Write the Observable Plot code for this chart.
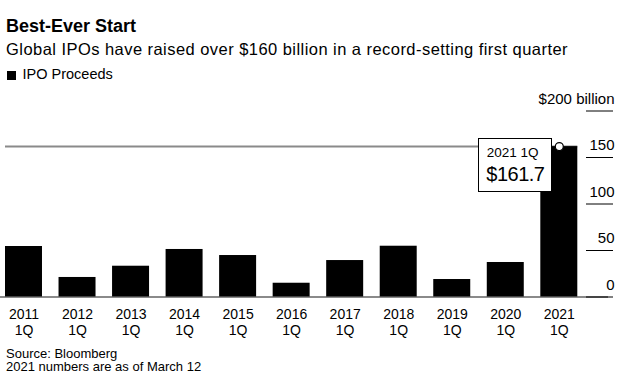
<!DOCTYPE html>
<html><head><meta charset="utf-8">
<script src="https://cdn.jsdelivr.net/npm/d3@7"></script>
<script src="https://cdn.jsdelivr.net/npm/@observablehq/plot@0.6"></script>
<style>
body{margin:0;background:#fff;}
#wrap{position:relative;width:620px;height:377px;font-family:"Liberation Sans",Arial,sans-serif;color:#000;overflow:hidden;background:#fff}
.t{position:absolute;white-space:nowrap;line-height:1}
#chart{position:absolute;left:0;top:84px}
#tip{position:absolute;background:#fff;border:1px solid #000;box-sizing:border-box;width:74px;height:54px}
</style></head><body>
<div id="wrap">
  <div class="t" id="title" style="left:6px;top:17px;font-size:18px;font-weight:bold">Best-Ever Start</div>
  <div class="t" id="subtitle" style="left:6px;top:41px;font-size:16.5px;letter-spacing:0.45px">Global IPOs have raised over $160 billion in a record-setting first quarter</div>
  <div style="position:absolute;left:7px;top:70.5px;width:9px;height:9px;background:#000"></div>
  <div class="t" id="legend" style="left:22.5px;top:66.7px;font-size:14.5px">IPO Proceeds</div>
  <div id="chart"></div>
  <div class="t" id="src1" style="left:6px;top:346.5px;font-size:13px">Source: Bloomberg</div>
  <div class="t" id="src2" style="left:6px;top:360px;font-size:13px">2021 numbers are as of March 12</div>
</div>
<script>
const years = ["2011","2012","2013","2014","2015","2016","2017","2018","2019","2020","2021"];
const quarter = "1Q";
const proceeds = [54.3, 21.0, 33.1, 51.1, 44.6, 14.8, 39.2, 54.6, 18.8, 37.1, 161.7];
const yTicks = [0, 50, 100, 150, 200];
const highlightYear = "2021";
const highlightLabel = "2021 1Q";
const highlightValue = "$161.7";

const data = years.map((y, i) => ({year: y, value: proceeds[i]}));
const last = data.find(d => d.year === highlightYear);
const font = '"Liberation Sans", Arial, sans-serif';

const chart = Plot.plot({
  width: 620, height: 260,
  marginLeft: 5, marginRight: 35, marginTop: 26.5, marginBottom: 47.5,
  style: {fontFamily: font, fontSize: "14px", color: "#000", background: "transparent", overflow: "visible"},
  x: {type: "band", domain: years, paddingInner: 0.309, paddingOuter: 0, round: false, insetRight: 7.7, label: null},
  y: {domain: [0, 200], label: null},
  marks: [
    Plot.ruleY([0], {stroke: "#8a8a8a", strokeWidth: 2, insetLeft: -5, insetRight: -23}),
    Plot.ruleY([last], {y: "value", x1: () => years[0], x2: d => d.year, stroke: "#8a8a8a", strokeWidth: 2}),
    Plot.barY(data, {x: "year", y: "value", fill: "#000"}),
    Plot.dot([last], {x: "year", y: "value", r: 4, fill: "#fff", stroke: "#000", strokeWidth: 1.2}),
    Plot.axisX({tickSize: 0, tickPadding: 10, fontSize: 14, lineHeight: 1.19, tickFormat: d => `${d}\n${quarter}`}),
    Plot.axisY({anchor: "right", ticks: yTicks, tickSize: 27, tickFormat: () => ""}),
    Plot.text(yTicks, {y: d => d, text: d => d === 200 ? `$${d} billion` : `${d}`, frameAnchor: "right",
      textAnchor: "end", dx: 29, dy: -12, fontSize: 15, fill: "#000"})
  ]
});
document.getElementById("chart").appendChild(chart);

// tooltip annotation anchored from the scales
const xs = chart.scale("x"), ys = chart.scale("y");
const cx = xs.apply(last.year) + xs.bandwidth / 2;
const cy = ys.apply(last.value) + 84;
const tip = document.createElement("div");
tip.id = "tip";
tip.style.left = (cx - 7 - 74) + "px";
tip.style.top = (cy - 8) + "px";
tip.innerHTML = `<div class="t" style="left:8px;top:7px;font-size:13.5px">${highlightLabel}</div>` +
  `<div class="t" style="left:7.5px;top:24.5px;font-size:20px;letter-spacing:-0.5px">${highlightValue}</div>`;
document.getElementById("wrap").appendChild(tip);
</script>
</body></html>
